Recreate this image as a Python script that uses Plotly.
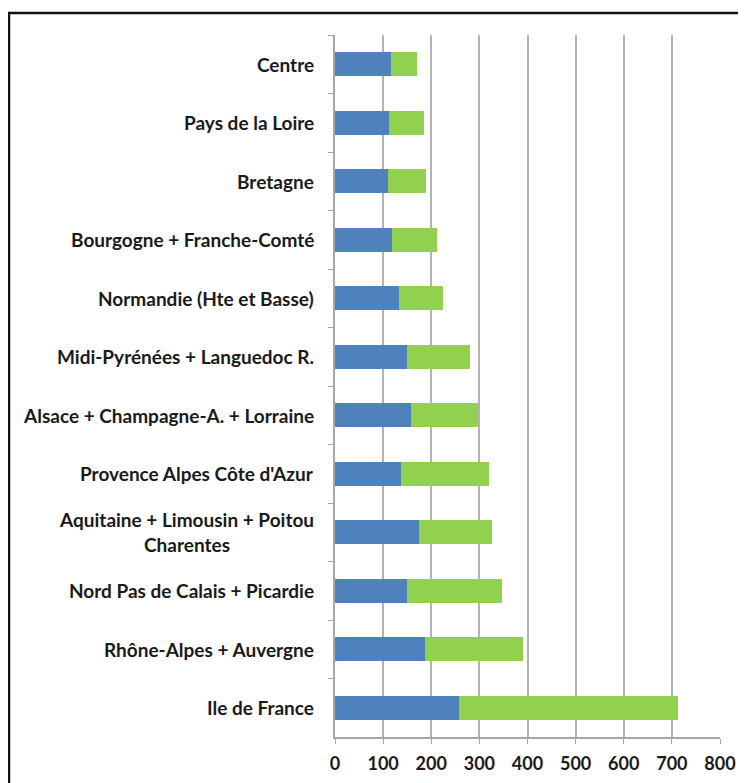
import plotly.graph_objects as go

regions = [
    "Centre",
    "Pays de la Loire",
    "Bretagne",
    "Bourgogne + Franche-Comté",
    "Normandie (Hte et Basse)",
    "Midi-Pyrénées + Languedoc R.",
    "Alsace + Champagne-A. + Lorraine",
    "Provence Alpes Côte d'Azur",
    "Aquitaine + Limousin + Poitou<br>Charentes",
    "Nord Pas de Calais + Picardie",
    "Rhône-Alpes + Auvergne",
    "Ile de France",
]
series_blue = [116, 113, 111, 118, 132, 150, 157, 138, 174, 149, 188, 257]
series_green = [55, 71, 78, 93, 93, 131, 140, 183, 153, 199, 203, 456]
x_ticks = [0, 100, 200, 300, 400, 500, 600, 700, 800]

# page has an 8px body margin; the figure is sized to fit the window
W, H = 738, 775
L, R, T, B = 327, 26, 27, 46
pw, ph = W - L - R, H - T - B

fig = go.Figure()
fig.add_trace(go.Bar(y=regions, x=series_blue, orientation="h",
                     marker=dict(color="#4F81BD", line=dict(width=0)), name="A"))
fig.add_trace(go.Bar(y=regions, x=series_green, orientation="h",
                     marker=dict(color="#92D050", line=dict(width=0)), name="B"))

font_family = "Lato, 'Open Sans', sans-serif"
annotations = []
for r in regions:
    annotations.append(dict(
        x=0, xref="paper", y=r, yref="y", xanchor="right", yanchor="middle",
        xshift=-19, text="<b>" + r + "</b>", showarrow=False, align="center",
        font=dict(family=font_family, size=19, color="#1a1a1a"),
    ))

fig.update_layout(
    width=W, height=H,
    margin=dict(l=L, r=R, t=T, b=B, autoexpand=False),
    paper_bgcolor="white", plot_bgcolor="white",
    barmode="stack", bargap=0.59, showlegend=False,
    annotations=annotations,
    xaxis=dict(range=[0, 800], tickvals=x_ticks,
               ticktext=["<b>%d</b>" % v for v in x_ticks],
               showgrid=True, gridcolor="#B3B3B3", gridwidth=1.5,
               showline=True, linecolor="#A6A6A6", linewidth=1.5,
               ticks="outside", ticklen=5, tickcolor="#A6A6A6",
               ticklabelstandoff=5, automargin=False,
               tickfont=dict(family=font_family, size=18, color="#1a1a1a"),
               zeroline=False, fixedrange=True),
    yaxis=dict(categoryorder="array", categoryarray=regions, autorange="reversed",
               showticklabels=False, showgrid=False, automargin=False,
               showline=True, linecolor="#A6A6A6", linewidth=1.5,
               ticks="outside", ticklen=5, tickcolor="#A6A6A6",
               tickson="boundaries"),
    shapes=[dict(type="rect", xref="paper", yref="paper",
                 x0=(1 - L) / pw, x1=(W + 20 - L) / pw,
                 y0=-(H + 20 - T - ph) / ph, y1=(T - 5 + ph) / ph,
                 line=dict(color="#111111", width=2.5), fillcolor="rgba(0,0,0,0)",
                 layer="above")],
)

fig.write_html("out.html")
